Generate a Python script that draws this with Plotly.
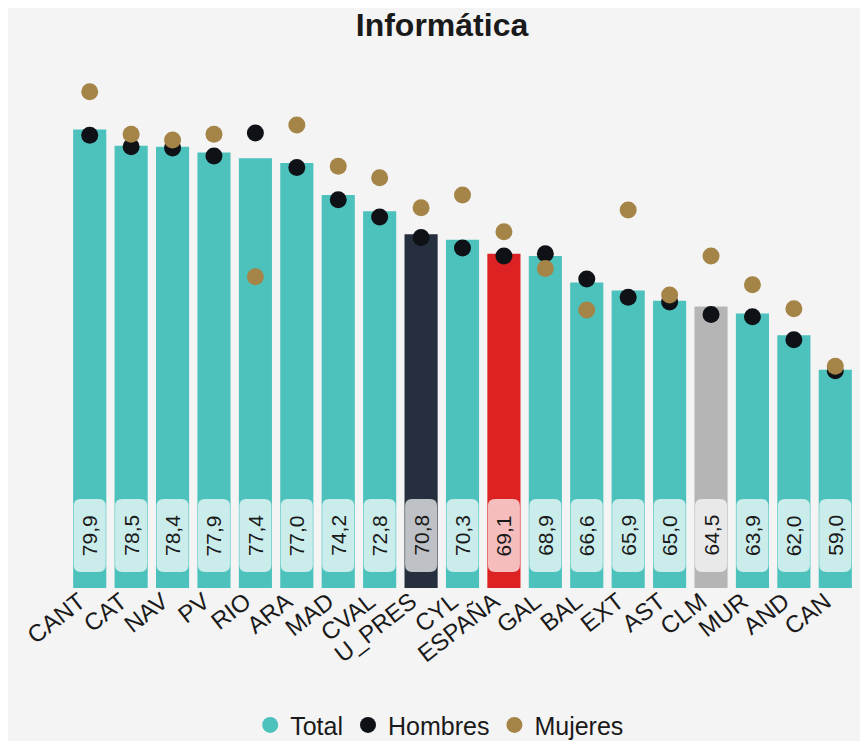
import plotly.graph_objects as go

# ---------------- data ----------------
categories = ["CANT", "CAT", "NAV", "PV", "RIO", "ARA", "MAD", "CVAL", "U_PRES", "CYL",
              "ESPAÑA", "GAL", "BAL", "EXT", "AST", "CLM", "MUR", "AND", "CAN"]
total = [79.9, 78.5, 78.4, 77.9, 77.4, 77.0, 74.2, 72.8, 70.8, 70.3,
         69.1, 68.9, 66.6, 65.9, 65.0, 64.5, 63.9, 62.0, 59.0]
hombres = [79.4, 78.4, 78.3, 77.6, 79.6, 76.6, 73.8, 72.3, 70.5, 69.6,
           68.9, 69.1, 66.9, 65.3, 64.9, 63.8, 63.6, 61.6, 58.9]
mujeres = [83.2, 79.5, 79.0, 79.5, 67.1, 80.3, 76.7, 75.7, 73.1, 74.2,
           71.0, 67.8, 64.2, 72.9, 65.5, 68.9, 66.4, 64.3, 59.3]

# ---------------- style ----------------
TEAL = "#4DC2BD"
special = {"U_PRES": "#262F3E", "ESPAÑA": "#DC2222", "CLM": "#B5B5B5"}
bar_colors = [special.get(c, TEAL) for c in categories]
FONT = "Arial, Liberation Sans, sans-serif"
Y_MIN = 40

fig = go.Figure()
fig.add_trace(go.Bar(x=categories, y=total, marker=dict(color=bar_colors, line=dict(width=0)),
                     name="Total", showlegend=False, hoverinfo="x+y"))
# legend entry for Total shown as a circle
fig.add_trace(go.Scatter(x=[None], y=[None], mode="markers", name="Total",
                         marker=dict(color=TEAL, size=17)))
fig.add_trace(go.Scatter(x=categories, y=hombres, mode="markers", name="Hombres",
                         marker=dict(color="#0E1116", size=17)))
fig.add_trace(go.Scatter(x=categories, y=mujeres, mode="markers", name="Mujeres",
                         marker=dict(color="#A58447", size=17)))

# rounded label boxes + value labels at the bottom of each bar
r = 7
x0, x1, y0, y1 = -16, 16, 16, 89
path = (f"M {x0},{y0 + r} L {x0},{y1 - r} Q {x0},{y1} {x0 + r},{y1} "
        f"L {x1 - r},{y1} Q {x1},{y1} {x1},{y1 - r} L {x1},{y0 + r} "
        f"Q {x1},{y0} {x1 - r},{y0} L {x0 + r},{y0} Q {x0},{y0} {x0},{y0 + r} Z")
shapes = []
annotations = []
for c, v in zip(categories, total):
    shapes.append(dict(type="path", xref="x", yref="y", xsizemode="pixel", ysizemode="pixel",
                       xanchor=c, yanchor=Y_MIN, path=path,
                       fillcolor="rgba(255,255,255,0.7)", line=dict(width=0), layer="above"))
    annotations.append(dict(x=c, y=Y_MIN, xref="x", yref="y", yshift=(y0 + y1) / 2,
                            text=f"{v:.1f}".replace(".", ","), textangle=-90,
                            showarrow=False, xanchor="center", yanchor="middle",
                            font=dict(size=21, color="#1a1a1a", family=FONT)))

fig.update_layout(
    width=868, height=741,
    paper_bgcolor="#F4F4F4", plot_bgcolor="#F4F4F4",
    margin=dict(l=61, r=20, t=40, b=161, autoexpand=False),
    title=dict(text="<b>Informática</b>", x=0.5, xanchor="center", y=0.977, yanchor="middle",
               font=dict(size=32, color="#1a1a1a", family=FONT)),
    font=dict(family=FONT, color="#1a1a1a"),
    bargap=0.2,
    xaxis=dict(type="category", range=[-0.5, len(categories) - 0.5], tickangle=-38,
               showgrid=False, zeroline=False, automargin=False,
               ticklabelshift=-10, ticklabelstandoff=-6,
               showline=False, ticks="", tickfont=dict(size=24, color="#1a1a1a")),
    yaxis=dict(range=[Y_MIN, 87], visible=False, showgrid=False, automargin=False),
    legend=dict(orientation="h", x=0.471, xanchor="center", y=-0.254, yanchor="middle",
                font=dict(size=25, color="#1a1a1a"), bgcolor="rgba(0,0,0,0)",
                itemsizing="trace", itemwidth=30),
    shapes=shapes, annotations=annotations,
)

fig.write_html("out.html")
